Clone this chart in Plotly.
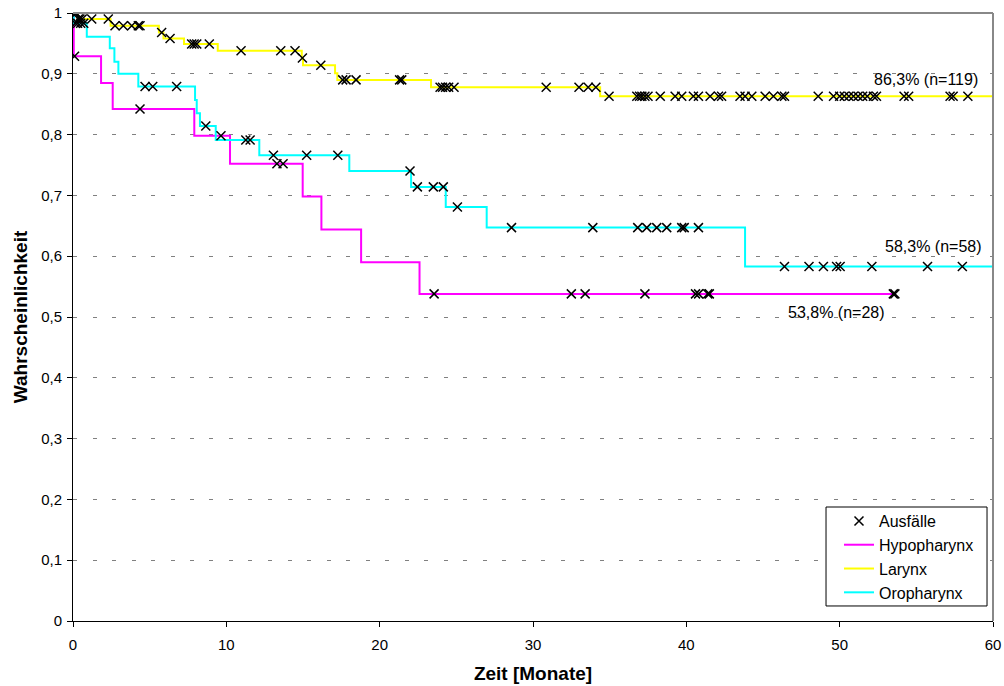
import numpy as np
import plotly.graph_objects as go

# Kaplan-Meier step curves: step times (months) and survival after each step
hypo_t = [0, 0.05, 1.83, 2.59, 7.91, 10.24, 14.98, 16.2, 18.79, 22.6, 53.6]
hypo_s = [1, 0.929, 0.885, 0.842, 0.798, 0.752, 0.698, 0.644, 0.590, 0.538, 0.538]

lar_t = [0, 0.3, 2.45, 5.6, 5.9, 7.24, 9.44, 14.92, 15.0, 17.09, 17.24, 23.35, 34.38, 60]
lar_s = [1, 0.990, 0.979, 0.968, 0.958, 0.949, 0.938, 0.926, 0.914, 0.901, 0.890, 0.878, 0.863, 0.863]

oro_t = [0, 0.05, 0.9, 2.4, 2.7, 2.96, 4.26, 7.96, 8.07, 8.28, 9.31, 12.15, 18.02, 22.05, 24.31, 26.98, 43.83, 60]
oro_s = [1, 0.983, 0.961, 0.942, 0.920, 0.900, 0.879, 0.857, 0.835, 0.814, 0.791, 0.766, 0.740, 0.714, 0.681, 0.647, 0.583, 0.583]

# Censored observations (months)
hypo_cens = [0.1, 4.37, 9.65, 13.3, 13.7, 23.55, 32.5, 33.4, 37.3, 40.6, 40.8,
             41.4, 41.5, 53.5, 53.6]
lar_cens = [0.1, 0.2, 0.35, 0.45, 0.6, 1.22, 2.3, 2.74, 3.28, 3.83, 4.26, 4.37,
            5.78, 6.33, 7.74, 7.9, 8.07, 8.89, 10.96, 13.55, 14.48, 14.96, 16.16,
            17.59, 17.81, 18.46, 21.3, 21.44, 23.94, 24.1, 24.3, 24.5, 24.85,
            30.86, 33.0, 33.6, 34.1, 34.96, 36.77, 36.95, 37.1, 37.3, 37.5, 38.3,
            39.27, 39.7, 40.46, 40.79, 41.55, 42.1, 42.3, 43.5, 43.83, 44.27,
            45.14, 45.68, 46.23, 46.4, 48.6, 49.6, 50.0, 50.3, 50.6, 50.9, 51.2,
            51.5, 51.8, 52.2, 52.4, 54.2, 54.5, 57.2, 57.4, 58.36]
oro_cens = [0.15, 0.3, 0.5, 0.7, 4.7, 5.2, 6.76, 8.66, 11.27, 11.55, 13.07, 15.24,
            17.27, 21.98, 22.46, 23.5, 24.15, 25.07, 28.6, 33.9, 36.83, 37.42,
            38.07, 38.72, 39.7, 39.86, 40.79, 46.4, 48.0, 48.94, 49.8, 50.03, 52.1,
            55.73, 58.0]

# Final estimates shown beside the curves
hypo_label = "53,8% (n=28)"
lar_label = "86,3% (n=119)"
oro_label = "58,3% (n=58)"

y_ticks = [0, 0.1, 0.2, 0.3, 0.4, 0.5, 0.6, 0.7, 0.8, 0.9, 1]
y_tick_labels = ["0", "0,1", "0,2", "0,3", "0,4", "0,5", "0,6", "0,7", "0,8", "0,9", "1"]
x_ticks = [0, 10, 20, 30, 40, 50, 60]

FONT = "Liberation Sans, Arial, sans-serif"


def level_at(times, surv, t):
    """Survival value of a step curve at time t."""
    i = np.searchsorted(np.asarray(times), t, side="right") - 1
    return surv[max(i, 0)]


fig = go.Figure()

curves = [
    ("Hypopharynx", hypo_t, hypo_s, "#FF00FF", 2),
    ("Larynx", lar_t, lar_s, "#FFFF00", 3),
    ("Oropharynx", oro_t, oro_s, "#00FFFF", 4),
]
for name, t, s, color, rank in curves:
    fig.add_trace(go.Scatter(
        x=t, y=s, mode="lines", name=name, legendrank=rank,
        line=dict(color=color, width=2, shape="hv"),
        hoverinfo="skip",
    ))

cx, cy = [], []
for t, s, cens in [(hypo_t, hypo_s, hypo_cens), (lar_t, lar_s, lar_cens),
                   (oro_t, oro_s, oro_cens)]:
    for c in cens:
        cx.append(c)
        cy.append(level_at(t, s, c))

fig.add_trace(go.Scatter(
    x=cx, y=cy, mode="markers", name="Ausfälle", legendrank=1,
    marker=dict(symbol="x-thin", size=9, color="black",
                line=dict(color="black", width=1.5)),
))

label_style = dict(showarrow=False, font=dict(family=FONT, size=16, color="black"),
                   xref="x", yref="y")
fig.add_annotation(x=55.6, y=0.891, text=lar_label, **label_style)
fig.add_annotation(x=56.1, y=0.616, text=oro_label, **label_style)
fig.add_annotation(x=49.8, y=0.507, text=hypo_label, **label_style)

# Top and right frame lines
fig.add_shape(type="line", xref="paper", yref="paper", x0=0, x1=1, y0=1, y1=1,
              line=dict(color="#888888", width=2))
fig.add_shape(type="line", xref="paper", yref="paper", x0=1, x1=1, y0=0, y1=1,
              line=dict(color="#888888", width=2))
# Legend frame (white box drawn over the grid)
fig.add_shape(type="rect", xref="paper", yref="paper",
              x0=0.8185, x1=0.9935, y0=0.0247, y1=0.1875,
              line=dict(color="black", width=1), fillcolor="white", layer="above")

fig.update_layout(
    width=1004, height=686,
    margin=dict(l=73, r=11, t=13, b=65, autoexpand=False),
    paper_bgcolor="white", plot_bgcolor="white",
    font=dict(family=FONT, size=15, color="black"),
    showlegend=True,
    legend=dict(
        x=0.8326, y=0.1924, xanchor="left", yanchor="top",
        borderwidth=0, bgcolor="rgba(0,0,0,0)",
        font=dict(family=FONT, size=16, color="black"),
        tracegroupgap=0,
    ),
    xaxis=dict(
        range=[0, 60], tickvals=x_ticks, showgrid=False, zeroline=False,
        showline=True, linecolor="black", linewidth=1, automargin=False,
        ticks="outside", ticklen=5, tickcolor="black", ticklabelstandoff=5,
        tickfont=dict(family=FONT, size=15),
        title=dict(text="<b>Zeit [Monate]</b>", font=dict(family=FONT, size=19),
                   standoff=14),
    ),
    yaxis=dict(
        range=[0, 1], tickvals=y_ticks, ticktext=y_tick_labels,
        showgrid=True, gridcolor="#808080", gridwidth=1, griddash="4px,15.5px",
        zeroline=False, showline=True, linecolor="black", linewidth=1,
        automargin=False,
        ticks="outside", ticklen=5, tickcolor="black", ticklabelstandoff=2,
        tickfont=dict(family=FONT, size=15),
        title=dict(text="<b>Wahrscheinlichkeit</b>", font=dict(family=FONT, size=19),
                   standoff=8),
    ),
)

fig.write_html("out.html")
